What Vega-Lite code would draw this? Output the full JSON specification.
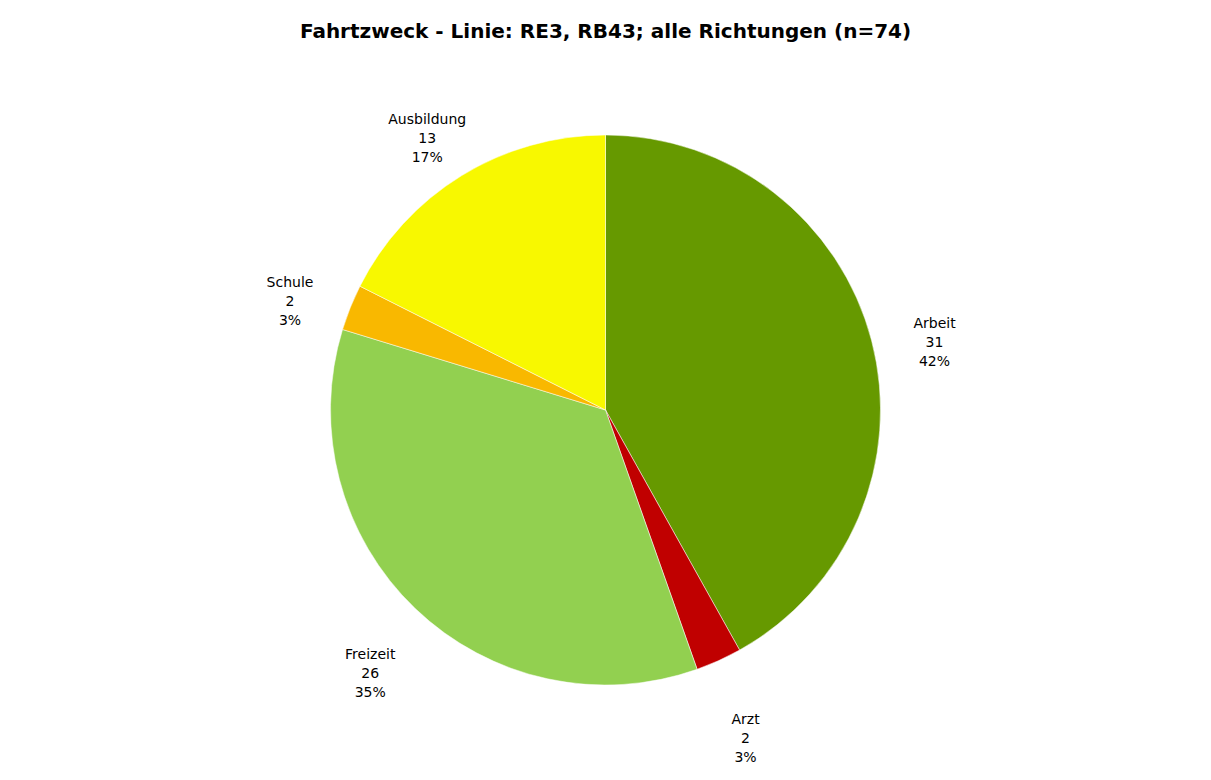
{
  "$schema": "https://vega.github.io/schema/vega-lite/v6.json",
  "width": 1211,
  "height": 780,
  "autosize": {"type": "fit", "contains": "padding"},
  "padding": {"top": 22, "left": 5, "right": 5, "bottom": 10},
  "background": "white",
  "title": {
    "text": "Fahrtzweck - Linie: RE3, RB43; alle Richtungen (n=74)",
    "font": "DejaVu Sans",
    "fontSize": 20,
    "fontWeight": "bold",
    "color": "#000000",
    "anchor": "middle",
    "offset": 8
  },
  "data": {
    "values": [
      {"zweck": "Arbeit", "anzahl": 31, "prozent": "42%", "ord": 1},
      {"zweck": "Arzt", "anzahl": 2, "prozent": "3%", "ord": 2},
      {"zweck": "Freizeit", "anzahl": 26, "prozent": "35%", "ord": 3},
      {"zweck": "Schule", "anzahl": 2, "prozent": "3%", "ord": 4},
      {"zweck": "Ausbildung", "anzahl": 13, "prozent": "17%", "ord": 5}
    ]
  },
  "transform": [
    {"calculate": "datum.zweck + '|' + datum.anzahl + '|' + datum.prozent", "as": "label"}
  ],
  "encoding": {
    "theta": {"field": "anzahl", "type": "quantitative", "stack": true},
    "order": {"field": "ord", "type": "quantitative", "sort": "ascending"}
  },
  "layer": [
    {
      "mark": {"type": "arc", "outerRadius": 275, "stroke": "#ffffff", "strokeWidth": 0.5},
      "encoding": {
        "color": {
          "field": "zweck",
          "type": "nominal",
          "scale": {
            "domain": ["Arbeit", "Arzt", "Freizeit", "Schule", "Ausbildung"],
            "range": ["#669900", "#C00000", "#92D050", "#F9B800", "#F8F800"]
          },
          "legend": null
        }
      }
    },
    {
      "mark": {
        "type": "text",
        "radius": 340,
        "font": "DejaVu Sans",
        "fontSize": 14,
        "color": "#000000",
        "lineBreak": "|",
        "lineHeight": 19,
        "align": "center",
        "baseline": "middle"
      },
      "encoding": {
        "text": {"field": "label", "type": "nominal"}
      }
    }
  ]
}
